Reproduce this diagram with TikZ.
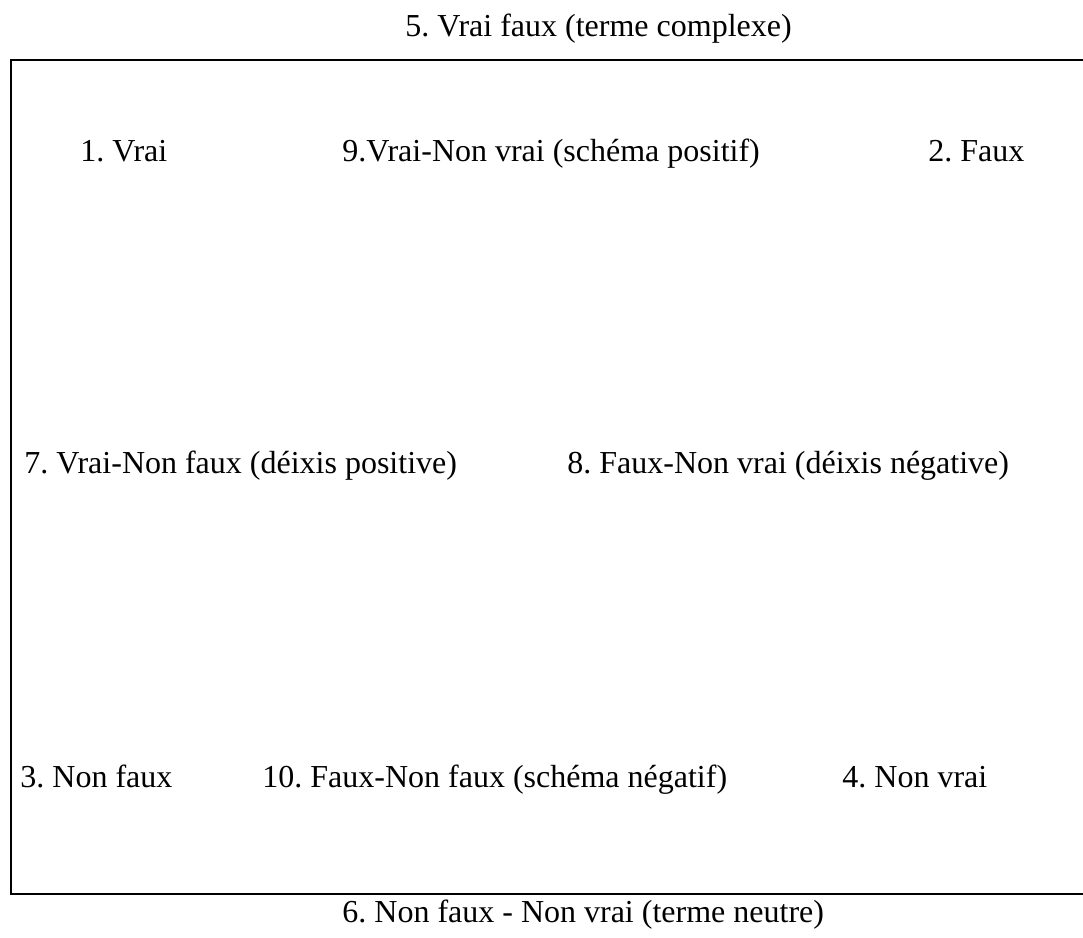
\documentclass[tikz,border=0pt]{standalone}
\usepackage{fontspec}
\setmainfont{Liberation Serif}
\frenchspacing
\begin{document}
\begin{tikzpicture}[x=0.5pt,y=-0.5pt,
  lbl/.style={anchor=base west,inner sep=0pt,font=\fontsize{16}{19}\selectfont},
  frame/.style={line width=1pt}]
\useasboundingbox (0,0) rectangle (1083,938);
\draw[frame] (1083,60) -- (11,60) -- (11,894) -- (1083,894);
\node[lbl] (n5) at (405,36) {5. Vrai faux (terme complexe)};
\node[lbl] (n1) at (80,161) {1. Vrai};
\node[lbl] (n9) at (342,161) {9.Vrai-Non vrai (schéma positif)};
\node[lbl] (n2) at (928,161) {2. Faux};
\node[lbl] (n7) at (24,473) {7. Vrai-Non faux (déixis positive)};
\node[lbl] (n8) at (567,473) {8. Faux-Non vrai (déixis négative)};
\node[lbl] (n3) at (20,787) {3. Non faux};
\node[lbl] (n10) at (262,787) {10. Faux-Non faux (schéma négatif)};
\node[lbl] (n4) at (842,787) {4. Non vrai};
\node[lbl] (n6) at (342,922) {6. Non faux - Non vrai (terme neutre)};
\end{tikzpicture}
\end{document}
